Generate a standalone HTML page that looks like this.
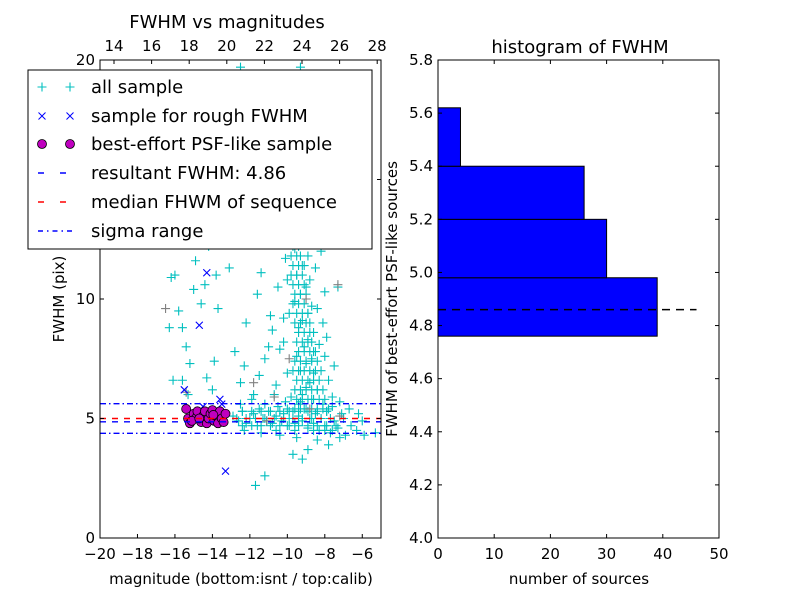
<!DOCTYPE html>
<html><head><meta charset="utf-8"><style>
body{margin:0;background:#fff;width:800px;height:600px;overflow:hidden}
svg{font-family:"DejaVu Sans","Liberation Sans",sans-serif}
</style></head><body>
<svg id="c" width="800" height="600" viewBox="0 0 800 600" xmlns="http://www.w3.org/2000/svg">
<rect width="800" height="600" fill="#fff"/>
</svg>
<script>
// ---- data ----
const allX=[-12.9,-12.6,-12.4,-12.2,-12,-11.8,-11.6,-11.5,-11.3,-11.1,-11,-10.8,-10.6,-10.5,-10.3,-10.2,-10,-9.9,-9.7,-9.6,-9.4,-9.2,-9.1,-8.9,-8.8,-8.6,-8.5,-8.3,-8.2,-8,-7.9,-7.7,-7.5,-7.3,-7.1,-6.9,-6.6,-6.3,-5.9,-5.3,-12.5,-11.9,-11.2,-10.7,-10.1,-9.8,-9.3,-8.7,-8.1,-7.6,-7.2,-6.7,-6.2,-6,-12.3,-11.4,-10.4,-9.5,-8.4,-7.8,-8.9,-9.2,-11.7,-11.2,-9.7,-7.2,
-12.5,-12.3,-11.8,-11.5,-11.2,-11.0,-10.8,-10.6,-10.4,-10.9,-11.6,-12.2,-12.8,-11.4,-10.5,-10.2,-10.1,-10.7,-11.9,-12.4,-11.0,-11.8,-12.2,
-9.4,-9.2,-9.0,-8.8,-8.6,-9.3,-9.0,-8.7,-8.5,-9.5,-9.1,-8.9,-8.6,-9.4,-9.2,-8.9,-8.7,-9.6,-9.3,-9.0,-8.8,-9.5,-9.2,-8.9,-9.6,-9.3,-9.0,-9.7,-9.4,-9.1,-9.8,-9.5,-9.2,-9.6,-9.3,-9.7,-9.4,-9.8,-9.5,-9.6,-9.3,-8.4,-8.2,-8.0,-8.3,-7.8,-7.6,-8.1,-8.4,-8.0,-7.3,-7.5,-7.9,-8.5,-8.2,-8.6,-8.3,-8.7,-8.9,-8.5,-8.8,-10.0,-10.2,-9.9,-10.0,-9.9,-10.2,-10.1,-10.3,-9.8,-10.0,-8.9,-8.6,-9.1,-9.0,
-15.8,-15.6,-15.4,-15.2,-15.6,-15.3,-15.0,-14.9,-15.5,-15.9,-16.0,-14.6,-14.4,-14.2,-14.8,-14.2,-13.8,-13.5,-13.7,-13.9,-14.0,-14.3,-16.1,-16.3,-16.2,-14.6,-14.8,-15.1,-13.1,-13.3,-12.8,-13.0,-12.5,-14.1];
const allY=[5.1,4.9,5.3,4.8,5.0,5.2,4.7,5.4,5.0,4.9,5.3,4.8,5.1,5.5,4.9,5.2,4.7,5.0,5.3,4.8,5.1,4.9,5.4,4.6,5.0,4.8,5.2,4.5,5.0,4.7,5.3,4.4,4.9,4.6,5.2,4.3,4.7,4.5,4.3,4.4,5.6,5.8,5.6,6.0,5.7,5.9,5.7,5.8,5.6,5.5,5.7,5.4,5.2,4.9,4.5,4.4,4.3,4.2,4.1,3.9,3.7,3.3,2.2,2.6,3.5,4.2,
6.5,7.2,6.0,6.8,7.5,8.0,8.7,6.4,7.9,9.3,10.2,9.0,7.8,11.1,10.5,9.2,11.7,12.3,12.8,13.1,14.0,15.8,16.4,
5.6,6.0,6.3,6.5,6.9,7.0,7.3,7.5,7.8,7.6,8.0,8.3,8.6,8.8,9.1,9.4,9.7,9.9,10.2,10.5,10.8,11.0,11.4,11.8,12.1,12.5,12.9,13.3,13.7,14.1,14.5,14.9,15.4,15.8,16.3,16.8,17.3,17.8,18.3,19.0,19.7,6.2,7.0,7.6,8.1,6.6,5.9,9.0,9.6,10.3,10.5,7.2,8.4,11.3,12.0,12.8,13.6,14.4,15.2,16.0,17.0,6.9,8.2,9.4,10.8,12.7,13.5,15.0,17.2,18.9,18.0,13.3,15.6,16.6,18.6,
9.5,8.8,8.0,7.3,6.6,6.0,10.4,11.6,12.3,13.2,11.0,9.8,10.6,12.2,13.4,14.6,11.0,12.8,9.6,7.4,6.2,6.7,6.6,8.8,10.9,15.6,16.8,17.8,11.3,14.1,16.2,18.4,19.7,19.0];
const plumeX=[-9.3,-9.0,-8.7,-8.4,-8.1,-7.8,-9.6,-10.0, -9.2,-8.9,-8.6,-8.3,-8.0,-9.5, -9.3,-9.0,-8.7,-8.4,-8.1,-9.6, -9.2,-8.9,-8.6,-8.3,-9.5, -9.4,-9.1,-8.8,-8.5,-9.7, -9.3,-9.0,-8.7,-8.4,-9.6, -9.4,-9.1,-8.8,-8.6, -9.5,-9.2,-8.9,-8.7, -9.4,-9.1,-8.8, -9.6,-9.3,-9.0,-8.8, -9.5,-9.2,-8.9, -9.7,-9.4,-9.1, -9.6,-9.3,-9.0, -9.7,-9.4,-9.1, -9.8,-9.5,-9.2, -9.7,-9.4,-9.1, -9.8,-9.5,-9.3, -9.7,-9.4, -9.8,-9.5,-9.3, -9.7,-9.4, -9.8,-9.5, -9.6,-9.3, -9.9,-9.6, -9.7,-9.4, -9.8,-9.5, -9.6, -9.9,-9.6, -9.7, -9.8,-9.5, -9.7, -9.9,-9.6, -9.8, -9.7, -9.9, -9.6, -9.8,
-12.4,-11.9,-11.4,-10.9,-10.4,-9.9,-9.4,-8.9,-8.4,-7.9,-7.4, -12.7,-12.2,-11.7,-11.2,-10.7,-10.2,-9.7,-9.2,-8.7,-8.2,-7.7,-7.0, -12.4,-11.9,-11.4,-10.9,-10.4,-9.9,-9.4,-8.9,-8.4,-7.9, -10.6,-9.6,-8.6,-8.0,-7.6];
const plumeY=[5.4,5.4,5.4,5.4,5.4,5.4,5.4,5.4, 5.8,5.8,5.8,5.8,5.8,5.8, 6.2,6.2,6.2,6.2,6.2,6.2, 6.6,6.6,6.6,6.6,6.6, 7.0,7.0,7.0,7.0,7.0, 7.4,7.4,7.4,7.4,7.4, 7.8,7.8,7.8,7.8, 8.2,8.2,8.2,8.2, 8.6,8.6,8.6, 9.0,9.0,9.0,9.0, 9.4,9.4,9.4, 9.8,9.8,9.8, 10.2,10.2,10.2, 10.6,10.6,10.6, 11.0,11.0,11.0, 11.4,11.4,11.4, 11.8,11.8,11.8, 12.2,12.2, 12.6,12.6,12.6, 13.0,13.0, 13.4,13.4, 13.8,13.8, 14.2,14.2, 14.6,14.6, 15.0,15.0, 15.4, 15.8,15.8, 16.2, 16.6,16.6, 17.0, 17.4,17.4, 17.8, 18.2, 18.6, 19.0, 19.4,
4.7,4.7,4.7,4.7,4.7,4.7,4.7,4.7,4.7,4.7,4.7, 5.0,5.0,5.0,5.0,5.0,5.0,5.0,5.0,5.0,5.0,5.0,5.0, 5.3,5.3,5.3,5.3,5.3,5.3,5.3,5.3,5.3,5.3, 4.5,4.5,4.5,4.5,4.5];
const grayX=[-16.5,-15.4,-11.8,-9.9,-10.7,-8.8,-7.2,-11.1,-9.0,-7.3,-10.5];
const grayY=[9.6,6.1,6.5,7.5,5.9,5.4,5.1,4.9,10.0,10.6,13.2];
const roughX=[-14.3,-14.7,-15.5,-13.3,-14.5,-13.6,-13.5,-14.0];
const roughY=[11.1,8.9,6.2,2.8,5.5,5.8,5.6,5.3];
const bestX=[-15.4,-15.3,-15.2,-15.0,-14.9,-14.8,-14.6,-14.5,-14.4,-14.3,-14.2,-14.1,-14.0,-13.9,-13.8,-13.7,-13.6,-13.5,-13.4,-13.3,-15.1,-14.7,-13.95];
const bestY=[5.4,5.0,4.8,5.2,5.0,5.3,4.85,5.1,5.3,4.8,5.0,5.2,5.35,4.9,5.1,4.8,5.3,5.0,4.85,5.2,4.9,5.0,5.15];
const resultFWHM=4.86, medianFWHM=5.0, sigmaLo=4.38, sigmaHi=5.62;
const xTicks=[-20,-18,-16,-14,-12,-10,-8,-6];
const xTickLabels=['\u221220','\u221218','\u221216','\u221214','\u221212','\u221210','\u22128','\u22126'];
const topTicks=[14,16,18,20,22,24,26,28];
const yTicks=[0,5,10,15,20];
const binLo=[4.76,4.98,5.20,5.40];
const binHi=[4.98,5.20,5.40,5.62];
const counts=[39,30,26,4];
const hxTicks=[0,10,20,30,40,50];
const hyTicks=[4.0,4.2,4.4,4.6,4.8,5.0,5.2,5.4,5.6,5.8];
const hLineLen=46;

// ---- helpers ----
const NS='http://www.w3.org/2000/svg';
const svg=document.getElementById('c');
function el(t,a,p){const e=document.createElementNS(NS,t);for(const k in a)e.setAttribute(k,a[k]);(p||svg).appendChild(e);return e;}
const L={x0:100,x1:381,y0:538,y1:60};
const sx=v=>L.x0+(v+20)/15*(L.x1-L.x0);
const sy=v=>L.y0-v/20*(L.y0-L.y1);
const tx=v=>114+(v-14)*18.8;
const R={x0:438,x1:719,y0:538,y1:60};
const hx=v=>R.x0+v/50*(R.x1-R.x0);
const hy=v=>R.y0-(v-4)/1.8*(R.y0-R.y1);

const defs=el('defs',{});
const cp=el('clipPath',{id:'cl'},defs);
el('rect',{x:L.x0,y:L.y1,width:L.x1-L.x0,height:L.y0-L.y1},cp);
const g=el('g',{'clip-path':'url(#cl)'});



function plus(x,y,c,parent){return el('path',{d:`M${x-4.5},${y}h9M${x},${y-4.5}v9`,stroke:c,'stroke-width':1.1,fill:'none'},parent);}
for(let i=0;i<allX.length;i++){const p=plus(sx(allX[i]),sy(allY[i]),'#00bfbf',g);

}
for(let i=0;i<plumeX.length;i++){const p=plus(sx(plumeX[i]),sy(plumeY[i]),'#00bfbf',g);

}
for(let i=0;i<grayX.length;i++){const p=plus(sx(grayX[i]),sy(grayY[i]),'#808080',g);

}
for(let i=0;i<roughX.length;i++){const x=sx(roughX[i]),y=sy(roughY[i]);
const p=el('path',{d:`M${x-3.5},${y-3.5}l7,7M${x-3.5},${y+3.5}l7,-7`,stroke:'#0000ff','stroke-width':1.1},g);

}
for(let i=0;i<bestX.length;i++){const c=el('circle',{cx:sx(bestX[i]),cy:sy(bestY[i]),r:4.5,fill:'#bf00bf',stroke:'#000','stroke-width':0.8},g);

}
function hline(v,col,dash,name){const l=el('line',{x1:L.x0,x2:L.x1,y1:sy(v),y2:sy(v),stroke:col,'stroke-width':1.4,'stroke-dasharray':dash},g);

}
hline(medianFWHM,'#ff0000','6,6','median-line');
hline(resultFWHM,'#0000ff','6,6','resultant-fwhm-line');
hline(sigmaLo,'#0000ff','6,3,1.5,3','sigma-low-line');
hline(sigmaHi,'#0000ff','6,3,1.5,3','sigma-high-line');

const f1=el('rect',{x:L.x0,y:L.y1,width:L.x1-L.x0,height:L.y0-L.y1,fill:'none',stroke:'#000','stroke-width':1});


function txt(x,y,s,o){const t=el('text',Object.assign({x:x,y:y,'font-size':15,'text-anchor':'middle',fill:'#000'},o||{}));t.textContent=s;return t;}
xTicks.forEach((v,i)=>{const x=sx(v);el('line',{x1:x,x2:x,y1:L.y0,y2:L.y0-4,stroke:'#000'});
const t=txt(x,559,xTickLabels[i]);});
topTicks.forEach(v=>{const x=tx(v);el('line',{x1:x,x2:x,y1:L.y1,y2:L.y1+4,stroke:'#000'});
const t=txt(x,51,String(v));});
yTicks.forEach(v=>{const y=sy(v);el('line',{x1:L.x0,x2:L.x0+4,y1:y,y2:y,stroke:'#000'});el('line',{x1:L.x1,x2:L.x1-4,y1:y,y2:y,stroke:'#000'});
const t=txt(95,y+5,String(v),{'text-anchor':'end'});});
let t=txt(227,28,'FWHM vs magnitudes',{'font-size':18});
t=txt(241,584,'magnitude (bottom:isnt / top:calib)',{'font-size':15});
t=txt(0,0,'FWHM (pix)',{'font-size':15,transform:'translate(64,299) rotate(-90)'});

const lg=el('g',{});


el('rect',{x:28,y:70,width:344,height:179,fill:'#fff',stroke:'#000','stroke-width':1},lg);
const ly=[87,116,144,173,202,231];
const labels=['all sample','sample for rough FWHM','best-effort PSF-like sample','resultant FWHM: 4.86','median FHWM of sequence','sigma range'];
labels.forEach((s,i)=>{const e=el('text',{x:91,y:ly[i]+6,'font-size':18,fill:'#000'},lg);e.textContent=s;});
[42,70].forEach(x=>{plus(x,ly[0],'#00bfbf',lg);
el('path',{d:`M${x-3.5},${ly[1]-3.5}l7,7M${x-3.5},${ly[1]+3.5}l7,-7`,stroke:'#0000ff'},lg);
el('circle',{cx:x,cy:ly[2],r:4.5,fill:'#bf00bf',stroke:'#000','stroke-width':0.8},lg);});
el('line',{x1:38,x2:76,y1:ly[3],y2:ly[3],stroke:'#0000ff','stroke-width':1.4,'stroke-dasharray':'6,16'},lg);
el('line',{x1:38,x2:76,y1:ly[4],y2:ly[4],stroke:'#ff0000','stroke-width':1.4,'stroke-dasharray':'6,16'},lg);
el('line',{x1:38,x2:76,y1:ly[5],y2:ly[5],stroke:'#0000ff','stroke-width':1.4,'stroke-dasharray':'5,4,1.5,4'},lg);

for(let i=0;i<counts.length;i++){const r=el('rect',{x:hx(0),y:hy(binHi[i]),width:hx(counts[i])-hx(0),height:hy(binLo[i])-hy(binHi[i]),fill:'#0000ff',stroke:'#000','stroke-width':1});

}
const hl=el('line',{x1:hx(0),x2:hx(hLineLen),y1:hy(resultFWHM),y2:hy(resultFWHM),stroke:'#000','stroke-width':1.6,'stroke-dasharray':'8,6'});


const f2=el('rect',{x:R.x0,y:R.y1,width:R.x1-R.x0,height:R.y0-R.y1,fill:'none',stroke:'#000','stroke-width':1});


hxTicks.forEach(v=>{const x=hx(v);el('line',{x1:x,x2:x,y1:R.y0,y2:R.y0-4,stroke:'#000'});el('line',{x1:x,x2:x,y1:R.y1,y2:R.y1+4,stroke:'#000'});
const e=txt(x,559,String(v));});
hyTicks.forEach(v=>{const y=hy(v);el('line',{x1:R.x0,x2:R.x0+4,y1:y,y2:y,stroke:'#000'});el('line',{x1:R.x1,x2:R.x1-4,y1:y,y2:y,stroke:'#000'});
const e=txt(433,y+5,v.toFixed(1),{'text-anchor':'end'});});
t=txt(580,53,'histogram of FWHM',{'font-size':18});
t=txt(579,584,'number of sources',{'font-size':15});
t=txt(0,0,'FWHM of best-effort PSF-like sources',{'font-size':15,transform:'translate(397,299) rotate(-90)'});
</script>
</body></html>
